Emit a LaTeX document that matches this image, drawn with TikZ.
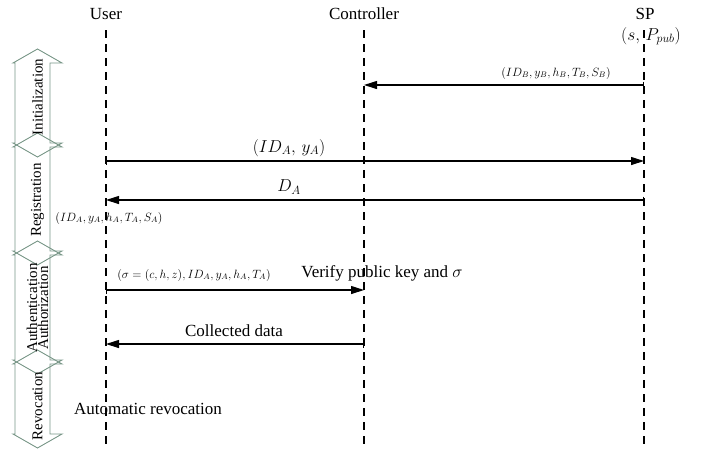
\documentclass[tikz,border=0pt]{standalone}
\usepackage{fontspec}
\setmainfont{Liberation Serif}
\usetikzlibrary{arrows.meta, positioning, calc}
\definecolor{cStage}{RGB}{120,150,135}
\tikzset{
	actor/.style={font=\rmfamily\fontsize{17}{20}\selectfont, inner sep=0pt},
	lifeline/.style={line width=1.3pt, dash pattern=on 8pt off 6pt},
	msg/.style={{Bar[width=7pt]}-{Triangle[length=13pt,width=8pt]}, line width=1.1pt},
	biglbl/.style={font=\rmfamily\fontsize{17}{20}\selectfont, inner sep=0pt},
	smalllbl/.style={font=\rmfamily\fontsize{11.5}{13}\selectfont, inner sep=0pt},
	stagebox/.style={draw=cStage, line width=0.9pt},
	stagelbl/.style={font=\rmfamily\fontsize{15}{11}\selectfont, rotate=90, inner sep=0pt, align=center},
}

\begin{document}
\begin{tikzpicture}[x=1pt, y=-1pt]
	\useasboundingbox (0,0) rectangle (702,451);
	% participants
	\node[actor] (user) at (106,14) {User};
	\node[actor] (ctrl) at (364,14) {Controller};
	\node[actor] (sp)   at (645,14) {SP};
	\node[biglbl] (spkey) at (651,36) {$(s,\, P_{pub})$};
	\foreach \n/\x in {user/106, ctrl/364, sp/644} {
		\coordinate (\n-top) at (\x,30);
		\coordinate (\n-bot) at (\x,447);
		\draw[lifeline] (\n-top) -- (\n-bot);
	}
	% phases
	\foreach \t/\b in {49/157, 133/265, 241/374, 350/448}
		\draw[stagebox] (37.5,\t) -- (62,\t+14) -- (50,\t+14) -- (50,\b-14) -- (62,\b-14)
			-- (37.5,\b) -- (13,\b-14) -- (15,\b-14) -- (15,\t+14) -- (13,\t+14) -- cycle;
	\node[stagelbl] (init) at (37.5,97) {Initialization};
	\node[stagelbl] (reg)  at (37.5,200) {Registration};
	\node[stagelbl] (auth) at (37.5,308) {Authentication\\Authorization};
	\node[stagelbl] (rev)  at (37.5,406) {Revocation};
	% messages
	\coordinate (m1) at (0,85);
	\coordinate (m2) at (0,161);
	\coordinate (m3) at (0,200);
	\coordinate (m4) at (0,290);
	\coordinate (m5) at (0,344);
	\draw[msg] (sp-top |- m1) -- (ctrl-top |- m1);
	\draw[msg] (user-top |- m2) -- (sp-top |- m2);
	\draw[msg] (sp-top |- m3) -- (user-top |- m3);
	\draw[msg] (user-top |- m4) -- (ctrl-top |- m4);
	\draw[msg] (ctrl-top |- m5) -- (user-top |- m5);
	% labels
	\node[smalllbl] (lbB)   at (556,73)  {$(ID_B, y_B, h_B, T_B, S_B)$};
	\node[biglbl]   (lbIDA) at (289,148) {$(ID_A,\, y_A)$};
	\node[biglbl]   (lbDA)  at (289,187) {$D_A$};
	\node[smalllbl] (lbkey) at (109,218) {$(ID_A, y_A, h_A, T_A, S_A)$};
	\node[smalllbl] (lbsig) at (194,275) {$(\sigma = (c,h,z), ID_A, y_A, h_A, T_A)$};
	\node[biglbl]   (lbver) at (382,273) {Verify public key and $\sigma$};
	\node[biglbl]   (lbcol) at (234,331) {Collected data};
	\node[biglbl]   (lbrev) at (148,409) {Automatic revocation};
\end{tikzpicture}
\end{document}
